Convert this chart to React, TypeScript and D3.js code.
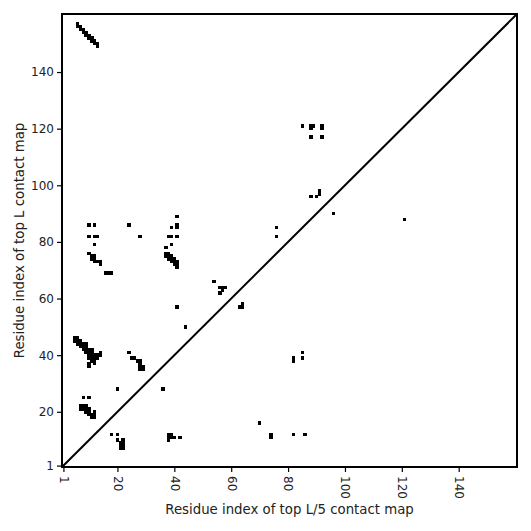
import * as d3 from 'd3';
import React, {useEffect, useRef} from "react";

const WIDTH = 531;
const HEIGHT = 531;
const SEQ_LEN = 160;
const MARGIN = {top: 14, right: 14, bottom: 64, left: 62};

const xTicks = [1, 20, 40, 60, 80, 100, 120, 140];
const yTicks = [1, 20, 40, 60, 80, 100, 120, 140];

// contact pairs [x residue, y residue], grouped by where they sit on the map
const topLeftStreak: [number, number][] = [
    [6, 157], [6, 156], [7, 156], [7, 155], [8, 155], [8, 154], [9, 154], [9, 153],
    [10, 153], [10, 152], [11, 152], [11, 151], [12, 151], [12, 150], [13, 150], [13, 149],
];
const midLeftPoints: [number, number][] = [
    [10, 86], [12, 86], [24, 86], [10, 82], [12, 82], [13, 82], [28, 82], [12, 79], [10, 76],
    [11, 75], [12, 75], [11, 74], [12, 74], [12, 73], [13, 73], [14, 73], [14, 72],
    [16, 69], [17, 69], [18, 69],
];
const lowLeftBlock: [number, number][] = [
    [5, 46], [6, 46], [5, 45], [6, 45], [7, 45], [6, 44], [7, 44], [8, 44], [9, 44],
    [7, 43], [8, 43], [9, 43], [8, 42], [9, 42], [10, 42], [11, 42],
    [9, 41], [10, 41], [11, 41], [14, 41], [10, 40], [11, 40], [12, 40], [13, 40], [14, 40],
    [10, 39], [11, 39], [12, 39], [13, 39], [11, 38], [12, 38], [10, 37], [12, 37], [10, 36],
    [24, 41], [25, 39], [26, 39], [27, 38], [28, 38], [28, 37], [28, 36], [29, 36], [28, 35], [29, 35],
    [20, 28], [36, 28],
];
const bottomLeftBlock: [number, number][] = [
    [8, 25], [10, 25], [7, 22], [8, 22], [9, 22], [7, 21], [8, 21], [9, 21], [10, 21],
    [9, 20], [10, 20], [12, 20], [10, 19], [11, 19], [12, 19], [11, 18], [12, 18],
    [18, 12], [20, 12], [20, 10], [22, 10], [21, 9], [22, 9], [21, 8], [22, 8], [21, 7], [22, 7],
    [38, 12], [39, 12], [38, 11], [39, 11], [38, 10], [40, 11], [42, 11],
];
const centrePoints: [number, number][] = [
    [41, 89], [41, 86], [41, 85], [39, 85], [38, 82], [39, 82], [41, 82], [39, 79], [37, 78],
    [37, 76], [38, 76], [37, 75], [38, 75], [39, 75], [38, 74], [39, 74], [40, 74],
    [39, 73], [40, 73], [41, 73], [40, 72], [41, 72], [41, 71], [41, 57], [44, 50],
    [54, 66], [56, 64], [57, 64], [58, 64], [57, 63], [56, 62], [64, 58], [63, 57], [64, 57],
];
const rightPoints: [number, number][] = [
    [70, 16], [74, 11], [74, 12], [82, 12], [86, 12],
    [82, 38], [82, 39], [85, 41], [85, 39],
    [76, 85], [76, 82], [85, 121], [88, 121], [89, 121], [88, 120], [92, 121], [92, 120],
    [88, 117], [92, 117], [88, 96], [90, 96], [91, 97], [91, 98], [96, 90], [121, 88],
];

const contacts = [...topLeftStreak, ...midLeftPoints, ...lowLeftBlock, ...bottomLeftBlock, ...centrePoints, ...rightPoints];

export default function App() {
    const ref = useRef<SVGSVGElement>(null);

    useEffect(() => {
        const svg = d3.select(ref.current);
        svg.selectAll('*').remove();

        const x = d3.scaleLinear().domain([0.5, SEQ_LEN + 0.5]).range([MARGIN.left, WIDTH - MARGIN.right]);
        const y = d3.scaleLinear().domain([0.5, SEQ_LEN + 0.5]).range([HEIGHT - MARGIN.bottom, MARGIN.top]);
        const cw = x(1) - x(0);
        const ch = y(0) - y(1);

        svg.append('g')
            .attr('shape-rendering', 'crispEdges')
            .selectAll('rect')
            .data(contacts)
            .enter()
            .append('rect')
            .attr('x', d => x(d[0] - 0.5) - 0.3)
            .attr('y', d => y(d[1] + 0.5) - 0.3)
            .attr('width', cw + 0.6)
            .attr('height', ch + 0.6)
            .attr('fill', 'black');

        svg.append('line')
            .attr('x1', x(0.5)).attr('y1', y(0.5))
            .attr('x2', x(SEQ_LEN + 0.5)).attr('y2', y(SEQ_LEN + 0.5))
            .attr('stroke', 'black')
            .attr('stroke-width', 2);

        const font = 'DejaVu Sans, sans-serif';

        const xAxisG = svg.append('g')
            .attr('transform', 'translate(0,' + (HEIGHT - MARGIN.bottom) + ')')
            .call(d3.axisBottom(x).tickValues(xTicks).tickSize(5).tickPadding(3).tickSizeOuter(0));
        xAxisG.select('.domain').remove();
        xAxisG.selectAll('line').attr('stroke', 'black').attr('stroke-width', 1.2);
        xAxisG.selectAll('text')
            .attr('font-family', font)
            .attr('font-size', 12)
            .attr('fill', '#222')
            .attr('transform', 'rotate(90)')
            .attr('dy', '0.35em')
            .attr('x', 9)
            .attr('y', 0)
            .style('text-anchor', 'start');

        const yAxisG = svg.append('g')
            .attr('transform', 'translate(' + MARGIN.left + ',0)')
            .call(d3.axisLeft(y).tickValues(yTicks).tickSize(5).tickPadding(3).tickSizeOuter(0));
        yAxisG.select('.domain').remove();
        yAxisG.selectAll('line').attr('stroke', 'black').attr('stroke-width', 1.2);
        yAxisG.selectAll('text')
            .attr('font-family', font)
            .attr('font-size', 12)
            .attr('fill', '#222');

        svg.append('rect')
            .attr('x', MARGIN.left)
            .attr('y', MARGIN.top)
            .attr('width', WIDTH - MARGIN.left - MARGIN.right)
            .attr('height', HEIGHT - MARGIN.top - MARGIN.bottom)
            .attr('fill', 'none')
            .attr('stroke', 'black')
            .attr('stroke-width', 2);

        svg.append('text')
            .attr('x', (MARGIN.left + WIDTH - MARGIN.right) / 2)
            .attr('y', 514)
            .attr('text-anchor', 'middle')
            .attr('font-family', font)
            .attr('font-size', 13.3)
            .attr('fill', '#222')
            .text('Residue index of top L/5 contact map');

        svg.append('text')
            .attr('transform', 'translate(24,' + ((MARGIN.top + HEIGHT - MARGIN.bottom) / 2) + ') rotate(-90)')
            .attr('text-anchor', 'middle')
            .attr('font-family', font)
            .attr('font-size', 13.3)
            .attr('fill', '#222')
            .text('Residue index of top L contact map');
    }, []);

    return (
        <svg ref={ref} width={WIDTH} height={HEIGHT} style={{position: 'absolute', left: 0, top: 0, background: 'white'}}/>
    );
}
